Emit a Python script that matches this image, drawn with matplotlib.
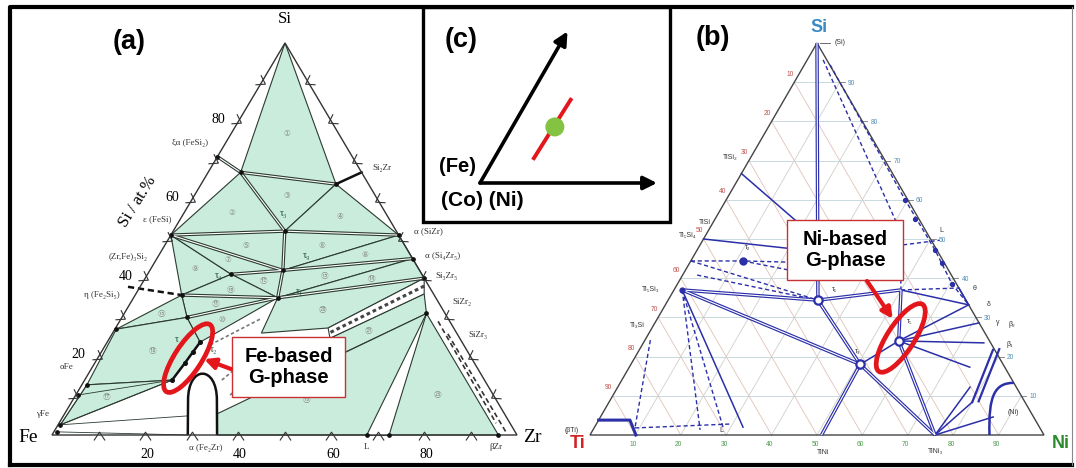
import matplotlib
matplotlib.use("Agg")
import matplotlib.pyplot as plt
from matplotlib.patches import Polygon, Ellipse, Rectangle, FancyArrowPatch, PathPatch, Circle
from matplotlib.path import Path
from matplotlib.markers import MarkerStyle
from matplotlib.transforms import Affine2D

W, H = 1076, 468

# triangle corners on the canvas: bottom-left, bottom-right, top
A_CORNERS = [(52, 435), (517, 435), (285, 43)]    # Fe, Zr, Si
B_CORNERS = [(590, 435), (1044, 435), (817, 43)]  # Ti, Ni, Si

# ---------------- (a) Fe-Si-Zr, compositions as (Si, Zr) at.%
a_phases = {
    'Si': (100, 0), 'Fe': (0, 0), 'Zr': (0, 100),
    'FeSi2': (71, 0), 'FeSi': (51, 0), 'Si2Zr': (67, 33), 'SiZr': (51, 49),
    'Si4Zr5': (45, 55), 'Si3Zr5': (40, 60), 'SiZr2': (31, 65),
    'L': (0, 67.7), 'bZr': (0, 96),
    'aFe': (12.8, 1.1), 'aFe2': (10.2, 0.5), 'gFe': (2.6, 0.5), 'Fe0': (0.8, 0.7),
}
a_nodes = {
    'n1': (67, 7), 'n2': (64, 29), 't3': (52, 24), 't9': (42, 28.6),
    't4': (41, 18), 't1': (35, 31), 'n3': (35.7, 10), 'n4': (30, 14),
    'n5': (27, 0.3), 'g_top': (23.7, 20), 'g_bot': (14, 18.8),
    'n6': (0, 72.5), 'n7': (26, 32), 'n8': (15, 44.7), 'n9': (5.4, 32.8),
    'b1': (27.3, 45.7), 'b2': (36, 62), 'b3': (24.7, 47.4),
    'd0': (0, 29.2), 'd1': (0, 35.5), 'eta': (37.8, -2.6),
}
# G-phase homogeneity range (Fe/Si exchange at ~20 at.% Zr)
g_line_a = [(14, 18.8), (18.4, 19.4), (21.2, 19.7), (23.7, 20)]
# alpha (Fe2Zr) dome: base, shoulder, two bezier controls, shoulder, base
dome_a = [(0, 29.2), (8.9, 24.8), (17.9, 20.3), (17.9, 26.5), (8.9, 31), (0, 35.5)]

# three-phase fields (shaded) with their region numbers
a_three = [
    (('Si', 'n1', 'n2'), 1), (('n1', 'n2', 't3'), 3), (('FeSi', 'n1', 't3'), 2),
    (('n2', 't3', 'SiZr'), 4), (('FeSi', 't3', 't9'), 5), (('t3', 'SiZr', 't9'), 6),
    (('FeSi', 't4', 'n3'), 9), (('FeSi', 't9', 't4'), 7), (('SiZr', 't9', 'Si4Zr5'), 8),
    (('t9', 'Si4Zr5', 't1'), 15), (('Si4Zr5', 'Si3Zr5', 't1'), 14), (('t4', 't9', 't1'), 12),
    (('n3', 't4', 't1'), 16), (('n3', 'n4', 't1'), 11), (('n5', 'n3', 'n4'), 13),
    (('n5', 'n4', 'g_top', 'g_bot', 'aFe'), 18), (('gFe', 'aFe', 'g_bot'), 17),
    (('n4', 't1', 'g_top'), 10), (('t1', 'Si3Zr5', 'b1', 'n7'), 20),
    (('b2', 'SiZr2', 'n8', 'b3'), 21), (('n9', 'SiZr2', 'L', 'd1'), 19),
    (('SiZr2', 'n6', 'bZr'), 25),
]
a_double = [('FeSi2', 'n1'), ('n1', 'n2'), ('n1', 't3'), ('FeSi', 't3'), ('t3', 'SiZr'),
            ('FeSi', 't9'), ('t3', 't9'), ('t9', 't1'), ('t4', 't9'), ('n3', 't1'),
            ('t9', 'Si4Zr5'), ('t1', 'Si3Zr5'), ('n4', 't1')]
a_ties = [('gFe', 'g_bot'), ('gFe', 'aFe'), ('aFe2', 'g_bot'), ('Fe0', 'd0'),
          ('gFe', 'n9'), ('L', 'n6')]
a_hatch = [((23, 22.5), (29.8, 30.2)), ((10.2, 33.2), (23, 39.7)),
           ((14, 29.5), (24.2, 34.7)), ((10.2, 36.4), (23, 44))]
a_dashed_band = [((25.8, 72.2), (0.8, 97.2)), ((29, 68.5), (3, 94))]

# ---------------- (b) Ti-Ni-Si, compositions as (Si, Ni) at.%
b_phases = {
    'Si': (100, 0), 'Ti': (0, 0), 'Ni': (0, 100),
    'TiSi2': (66.7, 0), 'TiSi': (50, 0), 'Ti5Si4': (44.4, 0), 'Ti5Si3': (37, 1.8),
    'Ti3Si': (24.2, 1.2), 'TiNi': (0, 51), 'TiNi3': (0, 76),
    'delta': (33.2, 66.8), 'theta': (37.5, 62.5), 'gamma': (28.6, 71.4), 'beta2': (23.5, 75),
}
b_nodes = {
    't1': (34.4, 33), 't2': (44.4, 11.5), 't3': (18, 50.5), 'tG': (24, 56), 'q': (37, 50),
    'e1': (52, 22), 'e2': (47, 25), 'e3': (44, 25), 'e4': (41, 28),
    'nb': (8.4, 80), 'nc': (17.3, 75), 'nd': (12.2, 77.6), 'ne': (4.6, 86.5),
    'bb': (21.7, 77.9), 'm1': (1.3, 23.6), 'm2': (2, 28.3), 'm3': (2, 32.7),
    'k1': (40.8, 3.2), 'k2': (1.8, 9), 'k3': (2.8, 29.5),
    'bt1': (3.8, 0), 'bt2': (3.8, 6.9), 'bt3': (0, 10.1),
}
# solid phase boundaries: (from, to, double?)
b_solid = [('Si', 't1', 1), ('Ti5Si3', 't1', 1), ('Ti5Si3', 't3', 1), ('t1', 't3', 1),
           ('t3', 'TiNi', 1), ('t3', 'TiNi3', 1), ('t1', 'q', 1), ('q', 'delta', 0),
           ('q', 'tG', 1), ('tG', 't3', 0), ('tG', 'delta', 0), ('tG', 'gamma', 0),
           ('tG', 'beta2', 0), ('tG', 'TiNi3', 1), ('tG', 'nc', 0), ('TiNi3', 'nd', 0),
           ('TiNi3', 'ne', 0), ('TiNi3', 'nb', 0), ('TiSi2', 'e1', 0), ('TiSi', 'e2', 0),
           ('Ti5Si3', 'm3', 0), ('theta', 'delta', 0)]
b_dashed = [['Ti5Si4', 't2', 'e3'], ['Ti5Si4', 't1'], ['k1', 't1'], ['t2', 'e4'],
            ['Ti5Si3', 'm1'], ['Ti5Si3', 'm2'], ['Ti3Si', 'k2'], ['k2', 'k3'],
            ['q', 'theta']]
b_liquidus = [[(94.4, 5.7), (60, 39.4), (47.2, 52.4), (38.5, 60.5), (33.2, 66.8)],
              [(95.7, 3.5), (52.3, 42.1), (37, 50)],
              [(48.5, 44.7), (49.7, 52.2)]]
b_liq_dots = [(60, 39.4), (55, 44), (47.2, 52.4), (44, 55.5), (38.5, 60.5)]
b_beta_band = [((21.7, 77.9), (8.4, 80)), ((21.9, 79.2), (8.6, 81.3))]
# (Ni) solid solution boundary: start, two bezier controls, end on the Ni-Si edge
ni_arc = [(0, 88), (10.2, 82.6), (13.3, 82.6), (13.3, 86.7)]
grid_steps = [10, 20, 30, 40, 50, 60, 70, 80, 90]

MINT = '#c9ecdd'
EDGE = '#2c3a31'
BLUE = '#2b2fa8'
RED = '#e3161c'


def tp(corners, si, b):
    (x0, y0), (x1, y1), (x2, y2) = corners
    s, r = si / 100.0, b / 100.0
    left = 1.0 - s - r
    return left * x0 + r * x1 + s * x2, left * y0 + r * y1 + s * y2


fig = plt.figure(figsize=(W / 100, H / 100), dpi=100)
ax = fig.add_axes([0, 0, 1, 1])
ax.set_xlim(0, W)
ax.set_ylim(H, 0)
ax.axis('off')

SERIF = ['Liberation Serif', 'DejaVu Serif']
SANS = ['Liberation Sans', 'DejaVu Sans']

# ================= panel (a)
apt = dict(a_phases)
apt.update(a_nodes)


def A(name):
    v = apt[name] if isinstance(name, str) else name
    return tp(A_CORNERS, *v)


for names, num in a_three:
    pts = [A(n) for n in names]
    ax.add_patch(Polygon(pts, closed=True, fc=MINT, ec=EDGE, lw=0.8, zorder=2))
    cx = sum(p[0] for p in pts) / len(pts)
    cy = sum(p[1] for p in pts) / len(pts)
    ax.text(cx, cy, chr(0x2460 + num - 1) if num <= 20 else chr(0x3251 + num - 21),
            fontsize=5.5, color='#8a8a8a', ha='center', va='center',
            family=['DejaVu Sans', 'Noto Sans CJK SC'], zorder=4)

for p, q in a_double:
    (x0, y0), (x1, y1) = A(p), A(q)
    ax.plot([x0, x1], [y0, y1], color=EDGE, lw=2.4, solid_capstyle='butt', zorder=3)
    ax.plot([x0, x1], [y0, y1], color='white', lw=0.8, solid_capstyle='butt', zorder=3.1)

for p, q in a_ties:
    (x0, y0), (x1, y1) = A(p), A(q)
    ax.plot([x0, x1], [y0, y1], color=EDGE, lw=0.6, zorder=3)
for p, q in a_hatch:
    (x0, y0), (x1, y1) = A(p), A(q)
    ax.plot([x0, x1], [y0, y1], color='#777777', lw=1.2, ls=(0, (2, 1.5)), zorder=3)
for p, q in a_dashed_band:
    (x0, y0), (x1, y1) = A(p), A(q)
    ax.plot([x0, x1], [y0, y1], color='#333333', lw=1.2, ls=(0, (3, 2)), zorder=3)

# dotted two-phase band between Si3Zr5 and the (20)/(21) fields
band = [A('Si3Zr5'), A('b2'), A('b3'), A('b1')]
ax.add_patch(Polygon(band, closed=True, fc='white', ec=EDGE, lw=0.8, zorder=2.5))
mx0 = ((band[0][0] + band[1][0]) / 2, (band[0][1] + band[1][1]) / 2)
mx1 = ((band[2][0] + band[3][0]) / 2, (band[2][1] + band[3][1]) / 2)
ax.plot([mx0[0], mx1[0]], [mx0[1], mx1[1]], color='#444444', lw=2.2, ls=(0, (1.2, 1)), zorder=3)

# heavy boundaries
(x0, y0), (x1, y1) = A('n2'), A('Si2Zr')
ax.plot([x0, x1], [y0, y1], color='#111111', lw=1.8, zorder=3)
(x0, y0), (x1, y1) = A('eta'), A('n3')
ax.plot([x0, x1], [y0, y1], color='#111111', lw=1.8, ls=(0, (2.5, 1.5)), zorder=3)

# alpha (Fe2Zr) dome
d = [A(v) for v in dome_a]
dome_path = Path([d[0], d[1], d[2], d[3], d[4], d[5]],
                 [Path.MOVETO, Path.LINETO, Path.CURVE4, Path.CURVE4, Path.CURVE4, Path.LINETO])
ax.add_patch(PathPatch(dome_path, fc='white', ec='#111111', lw=1.8, zorder=3.2))

# G-phase line with its points
gx, gy = zip(*[A(v) for v in g_line_a])
ax.plot(gx, gy, color='#111111', lw=1.8, marker='o', ms=2.6, zorder=3.5)

# triangle outline
tri = [A('Fe'), A('Zr'), A('Si')]
ax.add_patch(Polygon(tri, closed=True, fill=False, ec='#333333', lw=1.0, zorder=3.6))

dot_names = ['t3', 't9', 't4', 't1', 'n3', 'n4', 'n5', 'n1', 'n2', 'FeSi', 'SiZr',
             'Si4Zr5', 'Si3Zr5', 'SiZr2', 'aFe', 'aFe2', 'gFe', 'Fe0', 'L', 'n6', 'bZr', 'FeSi2']
dx, dy = zip(*[A(n) for n in dot_names])
ax.plot(dx, dy, 'o', color='#111111', ms=2.4, zorder=3.7, ls='none')

# edge ticks as chevrons
chev = Path([(-1, -0.9), (0, 0.6), (1, -0.9)], [Path.MOVETO, Path.LINETO, Path.LINETO])
for k in grid_steps:
    for pos, rot in [(A((0, k)), 0), (A((k, 0)), -120), (A((k, 100 - k)), 120)]:
        m = MarkerStyle(chev, transform=Affine2D().rotate_deg(rot))
        ax.plot(*pos, marker=m, ms=8, mfc='none', mec='#333333', mew=0.8, zorder=3.8)

for k in [20, 40, 60, 80]:
    x, y = A((0, k))
    ax.text(x + 2, y + 20, str(k), fontsize=10, family=SERIF, ha='center', va='center')
    x, y = A((k, 0))
    ax.text(x - 20, y - 2, str(k), fontsize=10, family=SERIF, ha='center', va='center')

ax.text(285, 19, 'Si', fontsize=12, family=SERIF, ha='center', va='center')
ax.text(28, 437, 'Fe', fontsize=14, family=SERIF, ha='center', va='center')
ax.text(532, 437, 'Zr', fontsize=14, family=SERIF, ha='center', va='center')
ax.text(138, 202, 'Si / at.%', fontsize=12, family=SERIF, ha='center', va='center',
        rotation=58)

a_text = [('ξα (FeSi₂)', 190, 143), ('Si₂Zr', 382, 168), ('ε (FeSi)', 157, 219),
          ('(Zr,Fe)₃Si₂', 128, 257), ('η (Fe₂Si₅)', 102, 295), ('αFe', 66, 367),
          ('γFe', 43, 414), ('α (Fe₂Zr)', 206, 448), ('L', 367, 447), ('βZr', 496, 447),
          ('α (SiZr)', 428, 231), ('α (Si₄Zr₅)', 443, 256), ('Si₃Zr₅', 447, 276),
          ('SiZr₂', 462, 302), ('SiZr₃', 478, 335)]
for s, x, y in a_text:
    ax.text(x, y, s, fontsize=6.5, family=SERIF, color='#333333', ha='center', va='center')
a_tau = [('τ₃', 284, 214), ('τ₉', 307, 256), ('τ₄', 218, 275), ('τ₁', 300, 292),
         ('τ', 177, 340), ('τ₂', 213, 350)]
for s, x, y in a_tau:
    ax.text(x, y, s, fontsize=7, family=SERIF, color='#1f4d35', ha='center', va='center', zorder=4)

# ================= panel (b)
bpt = dict(b_phases)
bpt.update(b_nodes)


def B(name):
    v = bpt[name] if isinstance(name, str) else name
    return tp(B_CORNERS, *v)


for k in grid_steps:
    for (p, q), c in [(((k, 0), (k, 100 - k)), '#bfd3dc'),
                      (((0, k), (100 - k, k)), '#cdd0cb'),
                      (((0, 100 - k), (100 - k, 0)), '#e0c2ba')]:
        (x0, y0), (x1, y1) = B(p), B(q)
        ax.plot([x0, x1], [y0, y1], color=c, lw=0.6, zorder=1)

for k in grid_steps:
    x, y = B((100 - k, 0))
    ax.text(x - 4, y - 8, str(k), fontsize=4.8, color='#c0504a', ha='center', va='center', family=SANS)
    x, y = B((k, 100 - k))
    ax.text(x + 12, y + 1, str(k), fontsize=4.8, color='#4f8fb8', ha='center', va='center', family=SANS)
    ax.plot([x, x + 5], [y, y], color='#777777', lw=0.6)
    x, y = B((0, k))
    ax.text(x - 2, y + 10, str(k), fontsize=4.8, color='#4d9a4d', ha='center', va='center', family=SANS)

tri_b = [B('Ti'), B('Ni'), B('Si')]
ax.add_patch(Polygon(tri_b, closed=True, fill=False, ec='#444444', lw=1.0, zorder=2))

for p, q, dbl in b_solid:
    (x0, y0), (x1, y1) = B(p), B(q)
    if dbl:
        ax.plot([x0, x1], [y0, y1], color=BLUE, lw=2.5, solid_capstyle='butt', zorder=3)
        ax.plot([x0, x1], [y0, y1], color='white', lw=0.8, solid_capstyle='butt', zorder=3.1)
    else:
        ax.plot([x0, x1], [y0, y1], color=BLUE, lw=1.1, zorder=3)

for seq in b_dashed:
    xs, ys = zip(*[B(n) for n in seq])
    ax.plot(xs, ys, color=BLUE, lw=1.0, ls=(0, (3, 2)), zorder=3)
for seq in b_liquidus:
    xs, ys = zip(*[B(v) for v in seq])
    ax.plot(xs, ys, color=BLUE, lw=1.0, ls=(0, (3, 2)), zorder=3)
lx, ly = zip(*[B(v) for v in b_liq_dots])
ax.plot(lx, ly, 'o', color=BLUE, ms=2.8, ls='none', zorder=3)

for p, q in b_beta_band:
    (x0, y0), (x1, y1) = B(p), B(q)
    ax.plot([x0, x1], [y0, y1], color=BLUE, lw=1.6, zorder=3)

bx, by = zip(*[B(n) for n in ['bt1', 'bt2', 'bt3']])
ax.plot(bx, by, color=BLUE, lw=2.2, zorder=3)

arc = [B(v) for v in ni_arc]
ax.add_patch(PathPatch(Path(arc, [Path.MOVETO, Path.CURVE4, Path.CURVE4, Path.CURVE4]),
                       fill=False, ec=BLUE, lw=1.8, zorder=3))

ox, oy = zip(*[B(n) for n in ['t1', 't3', 'tG']])
ax.plot(ox, oy, 'o', mfc='white', mec=BLUE, mew=1.6, ms=6, ls='none', zorder=4)
ax.plot(*B('t2'), 'o', color=BLUE, ms=5, zorder=4)
ax.plot(*B('Ti5Si3'), 'o', color=BLUE, ms=3.5, zorder=4)

ax.plot([820, 830], [43, 43], color='#555555', lw=0.6)
b_text = [('(Si)', 840, 43), ('TiSi₂', 730, 157), ('TiSi', 705, 222), ('Ti₅Si₄', 688, 236),
          ('Ti₅Si₃', 651, 289), ('Ti₃Si', 637, 326), ('(βTi)', 572, 430), ('TiNi', 823, 452),
          ('TiNi₃', 936, 452), ('(Ni)', 1013, 413), ('L', 941, 230), ('θ', 975, 289),
          ('δ', 989, 305), ('γ', 998, 323), ('β₂', 1012, 325), ('β₁', 1010, 344),
          ('τ₁', 835, 289), ('τ₂', 748, 248), ('τ₃', 858, 351), ('τ₅', 910, 321), ('L', 721, 430)]
for s, x, y in b_text:
    ax.text(x, y, s, fontsize=5, color='#333333', ha='center', va='center', family=SANS, zorder=4)

ax.text(819, 27, 'Si', fontsize=13, fontweight='bold', color='#3a8cc4', ha='center', va='center', family=SANS)
ax.text(578, 443, 'Ti', fontsize=13, fontweight='bold', color='#d32222', ha='center', va='center', family=SANS)
ax.text(1061, 443, 'Ni', fontsize=13, fontweight='bold', color='#2b8a2b', ha='center', va='center', family=SANS)

# ================= G-phase highlights and callouts
for corners, pts, text, box, tail in [
        (A_CORNERS, [g_line_a[0], g_line_a[-1]], 'Fe-based\nG-phase', (232, 337, 113, 60), (231, 369)),
        (B_CORNERS, [b_nodes['tG'], b_nodes['tG']], 'Ni-based\nG-phase', (787, 220, 116, 60), (867, 281))]:
    p0, p1 = tp(corners, *pts[0]), tp(corners, *pts[1])
    cx, cy = (p0[0] + p1[0]) / 2, (p0[1] + p1[1]) / 2
    ax.add_patch(Ellipse((cx + 2, cy - 3), 80, 27, angle=-57, fill=False, ec=RED, lw=3.4, zorder=6))
    x, y, w, h = box
    ax.add_patch(Rectangle((x, y), w, h, fc='white', ec='#c83232', lw=1.0, zorder=6))
    ax.text(x + w / 2, y + h / 2, text, fontsize=14.5, fontweight='bold', ha='center', va='center',
            linespacing=1.1, family=SANS, zorder=7)
    head = (cx + 18, cy - 2) if corners is A_CORNERS else (cx - 6, cy - 22)
    ax.add_patch(FancyArrowPatch(tail, head, arrowstyle='-|>', mutation_scale=16,
                                 color=RED, lw=3.0, shrinkA=0, shrinkB=0, zorder=6.5))

# ================= panel (c): schematic of the G-phase line
C_ORIGIN = (480, 183)
c_axes = [((1, 0), 177), ((0.5, -0.866), 175)]
c_gline = [(0.223, 0.153), (0.241, 0.56)]
c_gdot = (0.24, 0.37)


def C(u, v):
    (e1, l1), (e2, l2) = c_axes
    return (C_ORIGIN[0] + u * e1[0] * l1 + v * e2[0] * l2,
            C_ORIGIN[1] + u * e1[1] * l1 + v * e2[1] * l2)


ax.add_patch(Rectangle((423, 7), 247, 215, fill=False, ec='black', lw=2.4, zorder=5))
for tip in [C(1, 0), C(0, 1)]:
    ax.add_patch(FancyArrowPatch(C_ORIGIN, tip, arrowstyle='-|>', mutation_scale=20,
                                 color='black', lw=2.6, shrinkA=0, shrinkB=0, zorder=6))
(x0, y0), (x1, y1) = C(*c_gline[0]), C(*c_gline[1])
ax.plot([x0, x1], [y0, y1], color=RED, lw=2.8, solid_capstyle='butt', zorder=6)
ax.add_patch(Circle(C(*c_gdot), 9.5, fc='#84c341', ec='none', zorder=6.5))
ax.text(458, 167, '(Fe)', fontsize=14.5, fontweight='bold', ha='center', va='center', family=SANS, zorder=7)
ax.text(482, 200, '(Co) (Ni)', fontsize=15, fontweight='bold', ha='center', va='center', family=SANS, zorder=7)

# panel letters
for s, x, y in [('(a)', 129, 42), ('(c)', 461, 40), ('(b)', 713, 38)]:
    ax.text(x, y, s, fontsize=19.5, fontweight='bold', ha='center', va='center', family=SANS, zorder=7)

# outer frame
ax.plot([10, 10, 1072], [465, 7, 7], color='black', lw=3.0, solid_capstyle='projecting', zorder=8)
ax.plot([10, 1072], [465, 465], color='black', lw=3.0, zorder=8)
ax.plot([1072, 1072], [7, 465], color='#888888', lw=0.8, zorder=8)

fig.savefig('out.png', dpi=100)
